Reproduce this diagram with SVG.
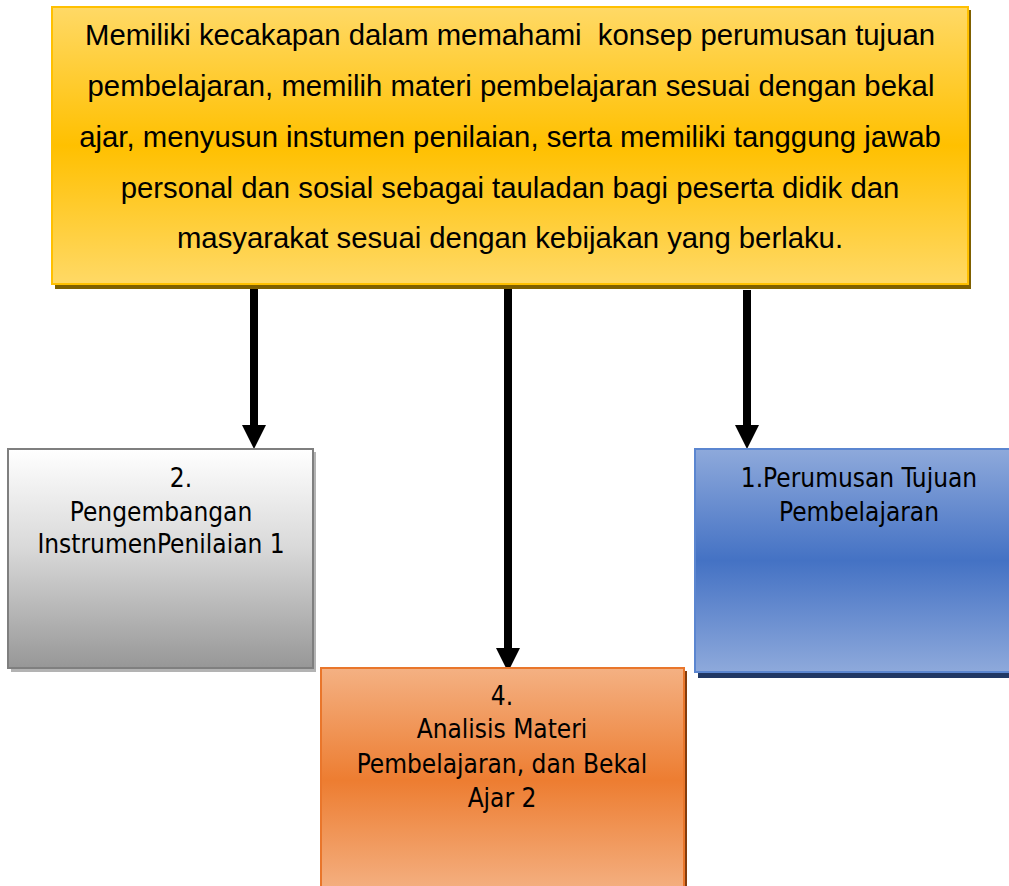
<svg xmlns="http://www.w3.org/2000/svg" width="1009" height="886" viewBox="0 0 1009 886">
<defs>
<linearGradient id="gTop" x1="0" y1="0" x2="0" y2="1">
<stop offset="0" stop-color="#FFD966"/><stop offset="0.5" stop-color="#FFC000"/><stop offset="1" stop-color="#FFD966"/>
</linearGradient>
<linearGradient id="gGray" x1="0" y1="0" x2="0" y2="1">
<stop offset="0" stop-color="#FFFFFF"/><stop offset="0.45" stop-color="#D9D9D9"/><stop offset="1" stop-color="#979797"/>
</linearGradient>
<linearGradient id="gBlue" x1="0" y1="0" x2="0" y2="1">
<stop offset="0" stop-color="#8EA9DB"/><stop offset="0.5" stop-color="#4472C4"/><stop offset="1" stop-color="#8EA9DB"/>
</linearGradient>
<linearGradient id="gOrange" x1="0" y1="0" x2="0" y2="1">
<stop offset="0" stop-color="#F4B183"/><stop offset="0.5" stop-color="#ED7D31"/><stop offset="1" stop-color="#F4B183"/>
</linearGradient>
<style>
.top{font-family:"Liberation Sans",Arial,sans-serif;font-size:29.3px;fill:#000;text-anchor:middle;white-space:pre}
.lbl{font-family:"DejaVu Sans Condensed","DejaVu Sans",sans-serif;font-stretch:condensed;font-size:26px;fill:#000;text-anchor:middle}
.shaft{stroke:#000;stroke-width:8;fill:none}
</style>
</defs>
<g id="connectors">
<path d="M254,287 V426" class="shaft"/><path d="M242,425 L266,425 L254,449 Z" fill="#000"/>
<path d="M508,284 V650" class="shaft"/><path d="M496,648 L520,648 L508,672 Z" fill="#000"/>
<path d="M747,290 V426" class="shaft"/><path d="M735,425 L759,425 L747,449 Z" fill="#000"/>
</g>
<g id="node-top">
<rect x="55" y="10" width="916" height="279" fill="#7F6000"/>
<rect x="52" y="7" width="916" height="277" fill="url(#gTop)" stroke="#FFC000" stroke-width="2"/>
<text class="top" x="510" y="45">Memiliki kecakapan dalam memahami  konsep perumusan tujuan</text>
<text class="top" x="511" y="96">pembelajaran, memilih materi pembelajaran sesuai dengan bekal</text>
<text class="top" x="510" y="147">ajar, menyusun instumen penilaian, serta memiliki tanggung jawab</text>
<text class="top" x="510" y="198">personal dan sosial sebagai tauladan bagi peserta didik dan</text>
<text class="top" x="510" y="248">masyarakat sesuai dengan kebijakan yang berlaku.</text>
</g>
<g id="node-2">
<rect x="11" y="452" width="305" height="220" fill="#B3B3B3"/>
<rect x="8" y="449" width="305" height="219" fill="url(#gGray)" stroke="#7F7F7F" stroke-width="2"/>
<text class="lbl" x="181" y="487">2.</text>
<text class="lbl" x="161" y="521">Pengembangan</text>
<text class="lbl" x="161" y="553">InstrumenPenilaian 1</text>
</g>
<g id="node-1">
<rect x="698" y="452" width="330" height="226" fill="#203864"/>
<rect x="695" y="449" width="328" height="223" fill="url(#gBlue)" stroke="#5B86D0" stroke-width="2"/>
<text class="lbl" x="859" y="487">1.Perumusan Tujuan</text>
<text class="lbl" x="859" y="521">Pembelajaran</text>
</g>
<g id="node-4">
<rect x="324" y="671" width="363" height="230" fill="#843C0C"/>
<rect x="321" y="668" width="363" height="225" fill="url(#gOrange)" stroke="#E9762B" stroke-width="2"/>
<text class="lbl" x="502" y="705">4.</text>
<text class="lbl" x="502" y="738">Analisis Materi</text>
<text class="lbl" x="502" y="773">Pembelajaran, dan Bekal</text>
<text class="lbl" x="502" y="807">Ajar 2</text>
</g>
</svg>
